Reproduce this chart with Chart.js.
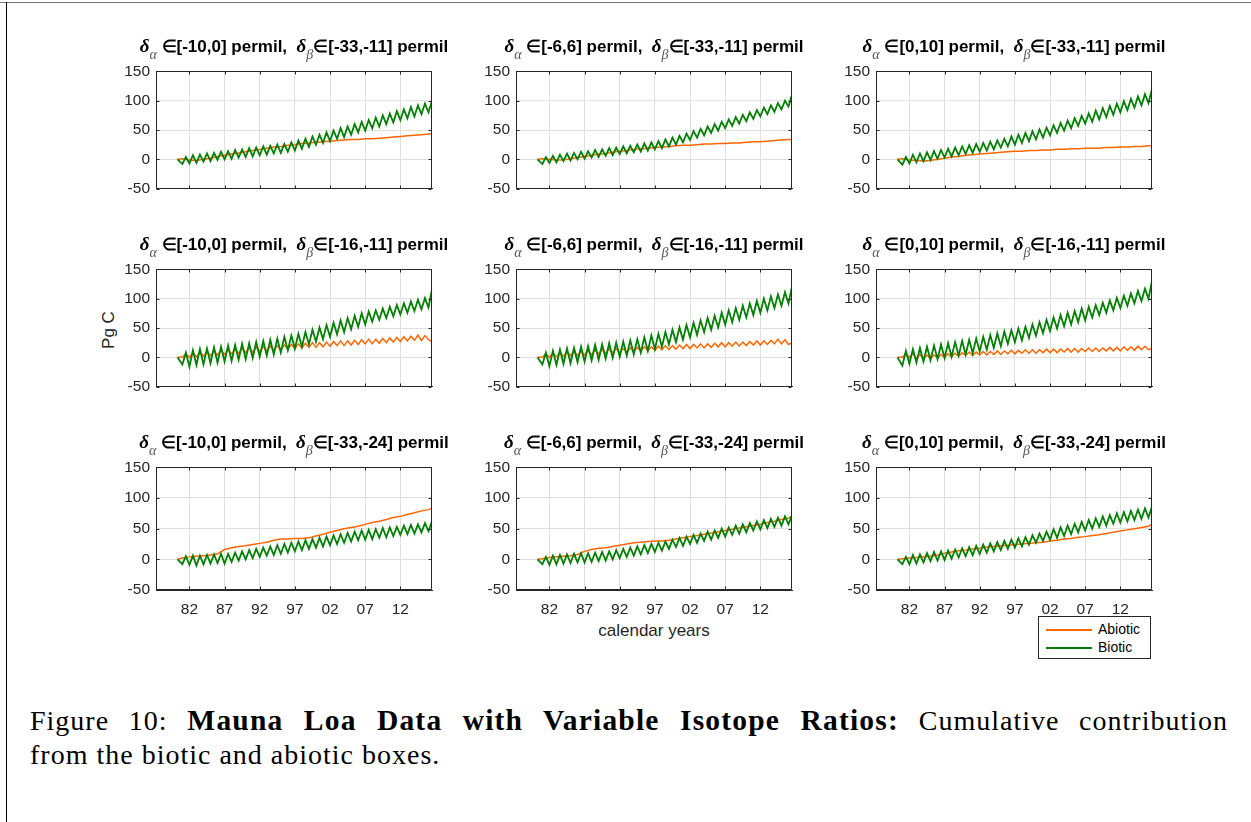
<!DOCTYPE html>
<html>
<head>
<meta charset="utf-8">
<script src="https://cdn.jsdelivr.net/npm/chart.js@4.4.1/dist/chart.umd.min.js"></script>
<style>
html, body { margin: 0; padding: 0; background: #fff; }
body { width: 1251px; height: 822px; position: relative; overflow: hidden;
       font-family: 'Liberation Sans', Arial, Helvetica, sans-serif; color: #262626; }
.frameTop { position: absolute; left: 0; top: 2px; width: 1251px; height: 1px; background: #777; }
.frameLeft { position: absolute; left: 6px; top: 2px; width: 1px; height: 820px; background: #000; }
canvas { position: absolute; }
.ttl { position: absolute; width: 476px; text-align: center; white-space: nowrap;
       font-weight: bold; font-size: 17px; line-height: 20px; color: #000; }
.ttl .d { font-family: 'Liberation Serif', serif; font-style: italic; font-size: 19px; }
.ttl sub { font-family: 'Liberation Serif', serif; font-style: italic; font-weight: normal;
           font-size: 14px; color: #555; vertical-align: -7px; line-height: 0; }
.ylab { position: absolute; left: 79px; top: 320px; width: 60px; text-align: center;
        font-size: 17px; line-height: 20px; transform: rotate(-90deg); transform-origin: 30px 10px; }
.xlab { position: absolute; left: 554px; top: 621px; width: 200px; text-align: center;
        font-size: 17px; line-height: 20px; }
.legend { position: absolute; left: 1038px; top: 616px; width: 111px; height: 41px;
          border: 1px solid #262626; background: #fff; font-size: 14px; color: #000; }
.legend .row { position: absolute; left: 7px; height: 16px; line-height: 16px; }
.legend .sw { display: inline-block; width: 46px; height: 0; border-top: 2px solid; vertical-align: middle; margin-right: 6px; }
.cap { position: absolute; left: 30px; width: 1198px; font-family: 'Liberation Serif', 'Times New Roman', serif;
       font-size: 28px; line-height: 32px; color: #000; letter-spacing: 1px; }
.cap b { font-size: 29.5px; letter-spacing: 1.2px; }
.cap1 { top: 704px; text-align: justify; text-align-last: justify; }
.cap2 { top: 739px; }
</style>
</head>
<body>
<div class="frameTop"></div>
<div class="frameLeft"></div>

<div class="ylab">Pg C</div>
<div class="xlab">calendar years</div>
<div class="legend">
  <div class="row" style="top:4px"><span class="sw" style="border-color:#ff6600"></span>Abiotic</div>
  <div class="row" style="top:22px"><span class="sw" style="border-color:#008000"></span>Biotic</div>
</div>
<div class="cap cap1">Figure 10: <b>Mauna Loa Data with Variable Isotope Ratios:</b> Cumulative contribution</div>
<div class="cap cap2">from the biotic and abiotic boxes.</div>

<script>
const xTicks = [1982, 1987, 1992, 1997, 2002, 2007, 2012];
const yTicks = [-50, 0, 50, 100, 150];
const xMin = 1977.25, xMax = 2016.5;
const firstYear = 1980.3, lastYear = 2016.5;
const alphaRanges = ['[-10,0]', '[-6,6]', '[0,10]'];
const betaRanges = ['[-33,-11]', '[-16,-11]', '[-33,-24]'];

// biotic: troughs at 1981..2016 (start of year), peaks at 1981.5..2016.5
const bioticTrough11 = [-8,-7,-6,-4,-3,-1,0,1,3,4,5,7,8,10,11,13,15,18,21,25,28,31,35,38,42,46,49,53,56,60,63,67,70,73,77,80];
const bioticPeak11   = [4,7,8,10,11,13,14,16,17,19,20,22,23,25,26,29,32,35,39,42,46,49,53,56,60,64,67,71,75,78,82,85,89,92,95,100];
const bioticTrough12 = [-8,-6,-5,-3,-2,0,1,3,4,6,7,9,10,12,13,15,17,19,22,25,29,33,37,41,45,49,53,57,61,65,69,73,77,81,85,90];
const bioticPeak12   = [4,6,8,10,11,13,14,16,17,19,20,22,23,25,27,29,31,34,37,40,44,48,52,56,60,64,68,72,76,80,84,88,92,96,100,110];
const bioticTrough13 = [-9,-7,-5,-3,-1,1,3,5,7,9,11,13,15,17,20,22,25,28,31,34,37,41,45,49,53,57,61,64,68,72,76,80,84,88,92,96];
const bioticPeak13   = [4,8,10,12,14,16,18,20,22,24,26,28,30,32,35,39,42,45,48,51,54,58,62,66,70,74,78,83,87,91,95,99,103,107,111,120];
const bioticTrough21 = [-12,-16,-13,-12,-10,-9,-7,-6,-4,-3,-1,1,3,5,8,12,15,18,22,27,31,35,39,43,48,52,56,61,64,67,70,73,76,79,82,85];
const bioticPeak21   = [8,12,14,15,17,18,20,21,23,24,26,28,30,32,35,37,40,43,47,51,55,59,63,67,71,75,78,80,83,86,89,92,95,98,101,116];
const bioticTrough22 = [-12,-15,-13,-11,-10,-8,-7,-5,-4,-2,-1,1,3,5,8,11,14,18,22,26,30,34,38,43,47,51,56,60,64,68,72,76,80,84,88,92];
const bioticPeak22   = [8,11,13,15,16,18,19,21,22,24,25,27,29,31,34,37,40,43,47,51,55,59,63,67,71,76,80,84,88,92,96,100,104,107,111,121];
const bioticTrough23 = [-14,-11,-9,-7,-5,-3,-1,1,3,5,7,10,13,16,19,23,26,29,33,37,41,45,49,53,56,60,63,68,72,76,80,84,88,92,96,100];
const bioticPeak23   = [11,14,16,18,20,22,24,26,28,30,32,35,38,41,44,46,49,52,56,60,64,68,72,76,79,83,86,89,93,97,101,105,109,113,117,130];
const bioticTrough31 = [-8,-9,-10,-8,-7,-6,-7,-4,-2,0,2,4,6,7,9,11,13,15,17,19,21,23,25,27,29,31,32,33,35,36,38,40,41,42,44,46];
const bioticPeak31   = [5,6,6,7,8,9,9,11,13,15,17,19,21,23,25,27,29,31,33,35,37,39,41,43,45,47,48,49,51,52,53,55,56,57,59,62];
const bioticTrough32 = [-8,-9,-8,-7,-6,-5,-5,-4,-3,-2,0,2,4,6,8,10,12,14,17,20,22,25,27,30,32,35,37,40,42,44,47,49,51,53,55,57];
const bioticPeak32   = [4,6,7,8,9,10,10,11,12,13,15,17,19,21,23,25,27,29,32,35,37,40,42,45,47,50,52,55,57,59,62,64,66,68,70,72];
const bioticTrough33 = [-8,-8,-7,-5,-3,-2,-1,1,3,5,7,9,11,13,15,17,19,21,24,27,30,32,35,38,41,44,47,50,53,55,58,60,62,64,66,68];
const bioticPeak33   = [4,7,8,10,12,13,14,16,18,20,22,24,26,28,30,32,34,36,39,42,45,49,52,55,58,61,64,67,70,72,75,77,79,81,83,86];

// abiotic, smooth rows: value at 1980.3, then 1981..2016, then 2016.5
const abiotic11 = [0,1,-1,-2,0,2,5,7,9,11,13,15,17,19,21,22,24,25,27,28,29,30,31,32,33,34,34,35,35,36,37,38,39,40,41,42,43,43];
const abiotic12 = [0,1,0,-1,-1,1,3,5,7,9,10,12,14,15,17,18,19,20,21,22,23,24,24,25,26,26,27,27,28,28,29,30,30,31,32,33,34,34];
const abiotic13 = [0,1,-1,-2,-3,-2,0,2,4,5,7,8,9,10,11,12,13,14,14,15,15,16,16,17,17,18,18,19,19,19,20,20,21,21,22,22,23,23];
const abiotic31 = [0,2,4,5,6,7,9,16,19,21,22,24,26,28,31,33,33,34,34,35,38,41,44,47,50,52,54,57,60,62,65,68,70,73,76,79,81,83];
const abiotic32 = [0,1,3,4,5,6,8,13,16,18,19,21,23,25,27,28,29,30,30,31,33,35,37,39,41,43,45,47,49,51,53,55,57,60,62,65,67,70];
const abiotic33 = [0,1,2,3,4,5,7,10,12,14,15,17,18,20,21,22,23,24,25,26,27,28,30,31,33,34,36,37,39,40,42,44,46,48,50,52,54,57];

// abiotic, seasonal middle row
const abioticTrough21 = [0,0,1,2,3,4,5,6,7,8,9,10,11,12,13,14,15,16,17,17,18,19,20,20,21,22,23,23,24,25,26,27,28,29,29,30];
const abioticPeak21   = [6,8,9,10,11,12,13,14,15,16,17,18,19,20,21,22,23,24,25,25,26,27,28,28,29,30,31,31,32,33,34,35,36,38,37,27];
const abioticTrough22 = [0,0,1,2,3,3,4,5,6,7,8,8,9,10,11,11,12,13,13,14,15,15,16,16,17,18,18,19,19,20,21,21,22,23,23,22];
const abioticPeak22   = [6,7,8,9,10,10,11,12,13,14,15,15,16,17,18,18,19,20,20,21,22,22,23,23,24,25,25,26,26,27,28,28,29,31,30,25];
const abioticTrough23 = [0,0,-1,-2,-2,-1,0,1,2,3,3,4,4,5,5,6,6,7,7,7,8,8,8,9,9,9,10,10,10,11,11,11,12,12,13,13];
const abioticPeak23   = [6,6,5,4,4,5,6,7,8,9,9,10,10,11,11,12,12,13,13,13,14,14,14,15,15,15,16,16,16,17,17,18,18,19,19,15];

function seasonal(trough, peak) {
    const pts = [{x: firstYear, y: 0}];
    for (let i = 0; i < trough.length; i++) {
        pts.push({x: 1981 + i, y: trough[i]});
        pts.push({x: 1981.5 + i, y: peak[i]});
    }
    return pts;
}
function annual(vals) {
    return vals.map((v, i) => ({
        x: i === 0 ? firstYear : (i === vals.length - 1 ? lastYear : 1980 + i),
        y: v
    }));
}

const panels = [
    [seasonal(bioticTrough11, bioticPeak11), annual(abiotic11)],
    [seasonal(bioticTrough12, bioticPeak12), annual(abiotic12)],
    [seasonal(bioticTrough13, bioticPeak13), annual(abiotic13)],
    [seasonal(bioticTrough21, bioticPeak21), seasonal(abioticTrough21, abioticPeak21)],
    [seasonal(bioticTrough22, bioticPeak22), seasonal(abioticTrough22, abioticPeak22)],
    [seasonal(bioticTrough23, bioticPeak23), seasonal(abioticTrough23, abioticPeak23)],
    [seasonal(bioticTrough31, bioticPeak31), annual(abiotic31)],
    [seasonal(bioticTrough32, bioticPeak32), annual(abiotic32)],
    [seasonal(bioticTrough33, bioticPeak33), annual(abiotic33)]
];

const plotLefts = [156, 516, 876];
const plotTops = [66, 264, 462];
const plotW = 276, plotH = 128;
const axisW = 50, padTop = 10, padRight = 6;

Chart.defaults.font.family = "'Liberation Sans', Arial, Helvetica, sans-serif";
Chart.defaults.color = '#262626';

// closes the axes box and draws small inward ticks like the original
const boxFrame = {
    id: 'boxFrame',
    afterDraw(chart) {
        const {ctx, chartArea: a, scales: {x, y}} = chart;
        const L = Math.round(a.left) + 0.5, R = Math.round(a.right) - 0.5;
        const T = Math.round(a.top) + 0.5, B = Math.round(a.bottom) - 0.5;
        ctx.save();
        ctx.strokeStyle = '#262626';
        ctx.lineWidth = 1;
        ctx.beginPath();
        ctx.rect(L, T, R - L, B - T);
        xTicks.forEach(v => {
            const px = Math.round(x.getPixelForValue(v)) + 0.5;
            ctx.moveTo(px, B); ctx.lineTo(px, B - 3);
            ctx.moveTo(px, T); ctx.lineTo(px, T + 3);
        });
        yTicks.forEach(v => {
            const py = Math.round(y.getPixelForValue(v)) + 0.5;
            ctx.moveTo(L, py); ctx.lineTo(L + 3, py);
            ctx.moveTo(R, py); ctx.lineTo(R - 3, py);
        });
        ctx.stroke();
        ctx.restore();
    }
};

panels.forEach((sets, k) => {
    const row = Math.floor(k / 3), col = k % 3;
    const bottomRow = row === 2;
    const padBottom = bottomRow ? 0 : 10;
    const xAxisH = bottomRow ? 30 : 0;

    const cv = document.createElement('canvas');
    cv.width = axisW + plotW + padRight;
    cv.height = padTop + plotH + padBottom + xAxisH;
    cv.style.left = (plotLefts[col] - axisW) + 'px';
    cv.style.top = (plotTops[row] - padTop) + 'px';
    cv.style.width = cv.width + 'px';
    cv.style.height = cv.height + 'px';
    document.body.appendChild(cv);

    const ttl = document.createElement('div');
    ttl.className = 'ttl';
    ttl.style.left = (plotLefts[col] + plotW / 2 - 238) + 'px';
    ttl.style.top = (plotTops[row] - 30) + 'px';
    ttl.innerHTML = '<span class="d">\u03b4</span><sub>\u03b1</sub> \u2208' + alphaRanges[col] +
        ' permil,&nbsp; <span class="d">\u03b4</span><sub>\u03b2</sub>\u2208' + betaRanges[row] + ' permil';
    document.body.appendChild(ttl);

    new Chart(cv, {
        type: 'line',
        data: {
            datasets: [
                {label: 'Biotic', data: sets[0], borderColor: '#008000', borderWidth: 1.8,
                 pointRadius: 0, tension: 0, fill: false},
                {label: 'Abiotic', data: sets[1], borderColor: '#ff6600', borderWidth: 1.5,
                 pointRadius: 0, tension: 0, fill: false}
            ]
        },
        options: {
            responsive: false,
            animation: false,
            events: [],
            layout: {padding: {left: 0, top: padTop, right: padRight, bottom: padBottom}},
            plugins: {legend: {display: false}, tooltip: {enabled: false}},
            scales: {
                x: {
                    type: 'linear', min: xMin, max: xMax,
                    afterBuildTicks: s => { s.ticks = xTicks.map(v => ({value: v})); },
                    afterFit: s => { s.height = xAxisH; },
                    grid: {color: '#e0e0e0', drawTicks: false},
                    border: {color: '#262626'},
                    ticks: {display: bottomRow, padding: 10, color: '#262626', font: {size: 15.5},
                            callback: v => String(v).slice(2)}
                },
                y: {
                    type: 'linear', min: -50, max: 150,
                    afterBuildTicks: s => { s.ticks = yTicks.map(v => ({value: v})); },
                    afterFit: s => { s.width = axisW; },
                    grid: {color: '#e0e0e0', drawTicks: false},
                    border: {color: '#262626'},
                    ticks: {padding: 6, color: '#262626', font: {size: 15.5}}
                }
            }
        },
        plugins: [boxFrame]
    });
});
</script>
</body>
</html>
